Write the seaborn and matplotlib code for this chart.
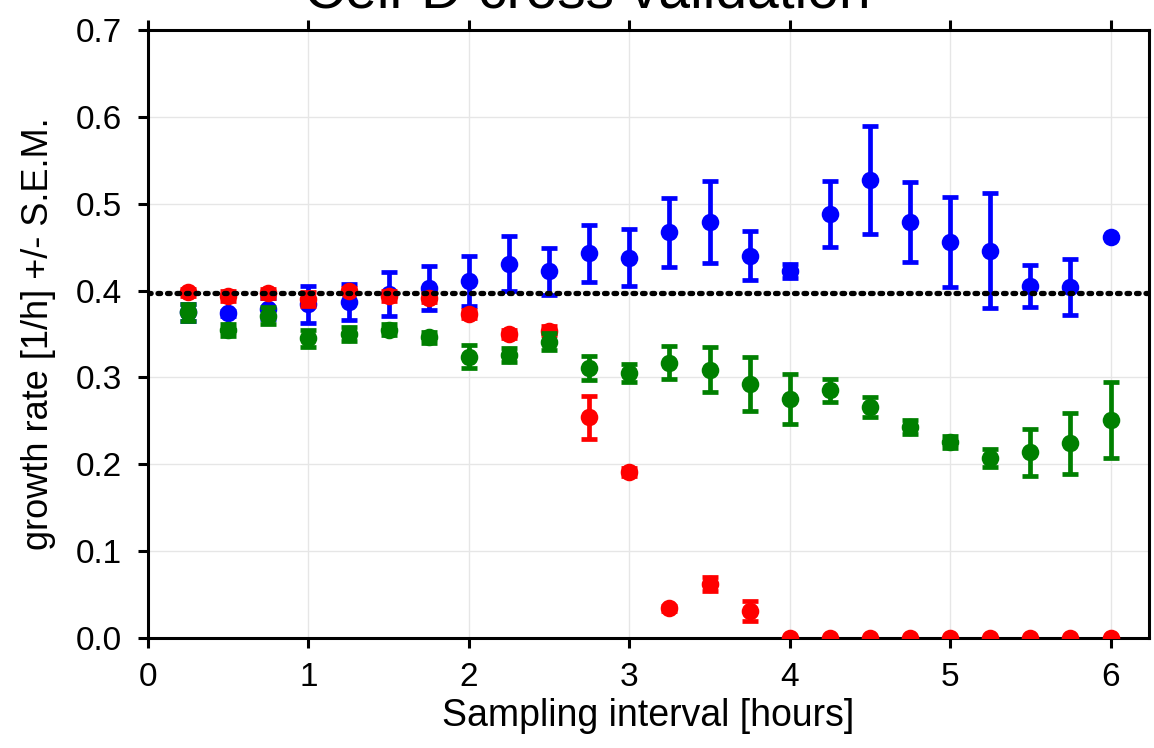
import pandas as pd
import matplotlib
matplotlib.use('Agg')
import matplotlib.pyplot as plt
import seaborn as sns

# Sampling intervals [hours]
interval = [0.25, 0.5, 0.75, 1.0, 1.25, 1.5, 1.75, 2.0, 2.25, 2.5, 2.75, 3.0,
            3.25, 3.5, 3.75, 4.0, 4.25, 4.5, 4.75, 5.0, 5.25, 5.5, 5.75, 6.0]

# Blue series: mean growth rate and S.E.M.
blue_mean = [0.375, 0.374, 0.379, 0.384, 0.387, 0.396, 0.403, 0.411, 0.431, 0.422, 0.443, 0.438,
             0.467, 0.479, 0.440, 0.422, 0.488, 0.527, 0.479, 0.456, 0.446, 0.405, 0.404, 0.462]
blue_sem = [0.010, 0.003, 0.012, 0.021, 0.021, 0.025, 0.025, 0.029, 0.032, 0.027, 0.033, 0.033,
            0.040, 0.047, 0.028, 0.008, 0.038, 0.062, 0.046, 0.052, 0.066, 0.024, 0.032, 0.0]

# Green series
green_mean = [0.375, 0.355, 0.371, 0.345, 0.350, 0.355, 0.346, 0.324, 0.326, 0.341, 0.311, 0.305,
              0.317, 0.309, 0.292, 0.275, 0.285, 0.266, 0.243, 0.226, 0.207, 0.214, 0.224, 0.251]
green_sem = [0.010, 0.007, 0.010, 0.010, 0.008, 0.006, 0.006, 0.013, 0.008, 0.010, 0.014, 0.010,
             0.019, 0.026, 0.031, 0.029, 0.013, 0.012, 0.008, 0.007, 0.010, 0.027, 0.035, 0.044]

# Red series
red_mean = [0.398, 0.394, 0.397, 0.390, 0.400, 0.394, 0.392, 0.373, 0.350, 0.354, 0.254, 0.191,
            0.034, 0.062, 0.031, 0.0, 0.0, 0.0, 0.0, 0.0, 0.0, 0.0, 0.0, 0.0]
red_sem = [0.004, 0.006, 0.005, 0.008, 0.003, 0.006, 0.005, 0.005, 0.005, 0.005, 0.025, 0.005,
           0.003, 0.008, 0.012, 0.0, 0.0, 0.0, 0.0, 0.0, 0.0, 0.0, 0.0, 0.0]

true_rate = 0.397

series = [('blue', blue_mean, blue_sem, '#0000ff'),
          ('red', red_mean, red_sem, '#ff0000'),
          ('green', green_mean, green_sem, '#008000')]

sns.set_theme(style='white')
plt.rcParams['font.family'] = ['Liberation Sans', 'DejaVu Sans']

fig = plt.figure(figsize=(11.54, 7.48), dpi=100)
ax = fig.add_axes([0.1283, 0.1471, 0.8674, 0.8128])

ax.grid(True, color='#e6e6e6', linewidth=1)
ax.set_axisbelow(True)

for i, (name, mean, sem, color) in enumerate(series):
    df = pd.DataFrame({'interval': interval, 'rate': mean, 'sem': sem})
    ax.errorbar(df['interval'], df['rate'], yerr=df['sem'], fmt='none', ecolor=color,
                elinewidth=3.4, capsize=6, capthick=3.4, zorder=3 + 2 * i)
    sns.scatterplot(data=df, x='interval', y='rate', color=color, s=160, linewidth=0,
                    ax=ax, zorder=4 + 2 * i, legend=False)

# reference growth rate
ax.axhline(true_rate, color='black', linewidth=3.8, linestyle=(0, (0.5, 1.3)),
           dash_capstyle='round', zorder=10)

ax.set_xlim(0, 6.24)
ax.set_ylim(0, 0.7)
ax.set_xticks([0, 1, 2, 3, 4, 5, 6])
ax.set_yticks([0.0, 0.1, 0.2, 0.3, 0.4, 0.5, 0.6, 0.7])
ax.set_yticklabels(['0.0', '0.1', '0.2', '0.3', '0.4', '0.5', '0.6', '0.7'])

for side in ['left', 'bottom', 'top', 'right']:
    ax.spines[side].set_visible(True)
    ax.spines[side].set_color('black')
    ax.spines[side].set_linewidth(2.2)

ax.tick_params(axis='both', which='major', direction='out', length=7, width=2.2,
               labelsize=24, colors='black', pad=10)
ax.tick_params(axis='x', top=True, bottom=True)
ax.tick_params(axis='y', left=True, right=False, pad=12)

ax.set_xlabel('Sampling interval [hours]', fontsize=27, labelpad=4, color='black')
ax.set_ylabel('growth rate [1/h] +/- S.E.M.', fontsize=26, labelpad=14, color='black')

fig.text(0.509, 0.9906, 'Cell-D cross validation', fontsize=41, ha='center', va='baseline',
         color='black')

fig.savefig('out.png', dpi=100)
